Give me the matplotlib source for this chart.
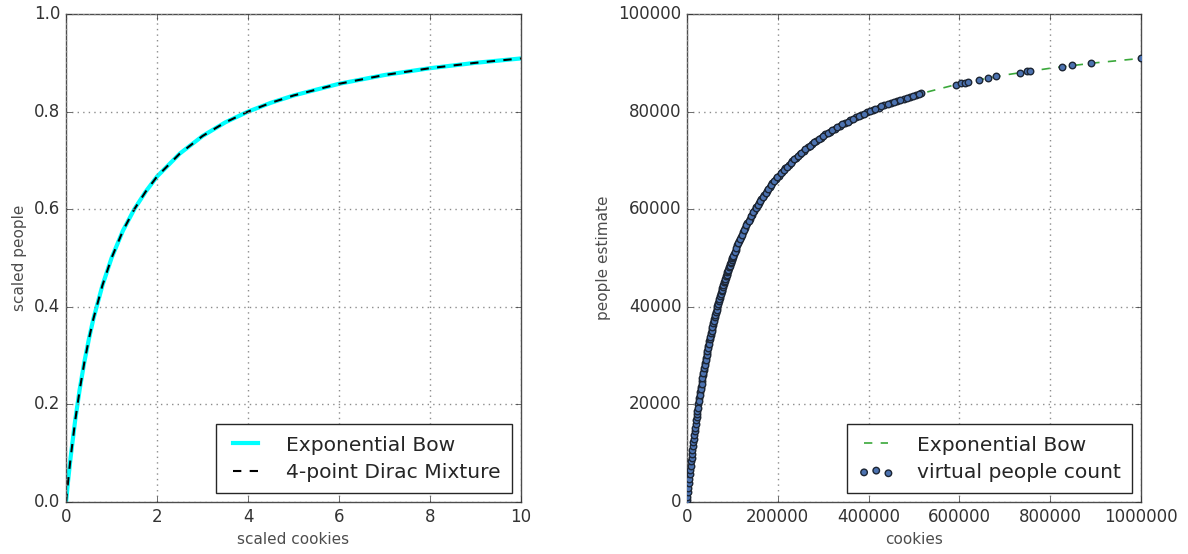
import matplotlib
matplotlib.use("Agg")
import matplotlib.pyplot as plt

# left panel: scaled curves
scaled_cookies = [0, 0.05, 0.1, 0.2, 0.3, 0.4, 0.5, 0.6, 0.8, 1.0, 1.25, 1.5, 1.75, 2.0,
                  2.5, 3.0, 3.5, 4.0, 4.5, 5.0, 6.0, 7.0, 8.0, 9.0, 10.0]
bow_scaled = [0, 0.048, 0.091, 0.167, 0.231, 0.286, 0.333, 0.375, 0.444, 0.5, 0.556, 0.6,
              0.636, 0.667, 0.714, 0.75, 0.778, 0.8, 0.818, 0.833, 0.857, 0.875, 0.889,
              0.9, 0.909]
dirac_scaled = [0, 0.047, 0.090, 0.166, 0.230, 0.285, 0.333, 0.375, 0.444, 0.5, 0.556, 0.6,
                0.636, 0.667, 0.714, 0.75, 0.778, 0.8, 0.818, 0.833, 0.857, 0.875, 0.889,
                0.9, 0.909]

# right panel: bow line
bow_cookies = [0, 5000, 10000, 25000, 50000, 75000, 100000, 150000, 200000, 300000,
               400000, 500000, 600000, 700000, 800000, 900000, 1000000]
bow_people = [0, 4762, 9091, 20000, 33333, 42857, 50000, 60000, 66667, 75000,
              80000, 83333, 85714, 87500, 88889, 90000, 90909]

# right panel: virtual people (thousands)
vp_cookies_k = [0.5, 1, 2, 3, 4, 5, 6, 7, 8, 9, 10, 11, 12, 13, 14, 15, 16, 17, 18, 19,
                20, 21, 22, 23, 25, 27, 29, 31, 33, 35, 37, 40, 42, 44, 47, 49, 52, 55,
                57, 60, 63, 66, 69, 72, 75, 78, 81, 85, 88, 92, 95, 99, 103, 107, 111,
                115, 119, 124, 128, 133, 138, 143, 148, 153, 158, 164, 170, 176, 182,
                188, 195, 202, 209, 216, 224, 232, 240, 248, 257, 266, 275, 285, 295,
                305, 315, 326, 337, 348, 360, 372, 384, 396, 409, 422, 435, 449, 463,
                477, 491, 505, 515, 592, 604, 612, 619, 643, 663, 681, 733, 749, 755,
                826, 848, 890, 1000,
                24, 26, 28, 30, 32, 34, 36, 38, 39, 41, 43, 45, 46, 48, 50, 51, 53, 54,
                56, 58, 59, 61, 62, 64, 65, 67, 68, 70, 71, 73, 74, 76, 77, 79, 80, 82,
                83, 84, 86, 87, 89, 90, 91, 93, 94, 96, 97, 98, 100, 101, 102, 105, 109,
                113, 117, 121, 126, 131, 136, 141, 146, 151, 156, 161, 167, 173, 179,
                185, 192, 199, 206, 213, 220, 228, 236, 244, 252, 261, 270, 280, 290,
                300, 310, 320, 331, 342, 354, 366, 378, 390, 402, 415, 428, 442, 456,
                470, 484, 498, 510]
vp_people_k = [0.5, 1.0, 1.96, 2.9, 3.85, 4.76, 5.7, 6.54, 7.41, 8.3, 9.09, 9.91, 10.7,
               11.5, 12.28, 13.0, 13.79, 14.5, 15.25, 15.97, 16.7, 17.36, 18.0, 18.7,
               20.0, 21.26, 22.48, 23.66, 24.81, 25.93, 27.01, 28.57, 29.58, 30.56,
               31.97, 32.89, 34.21, 35.48, 36.31, 37.5, 38.65, 39.76, 40.83, 41.86,
               42.86, 43.82, 44.75, 45.95, 46.81, 47.92, 48.72, 49.75, 50.74, 51.69,
               52.61, 53.49, 54.34, 55.36, 56.14, 57.08, 57.98, 58.85, 59.68, 60.47,
               61.24, 62.12, 62.96, 63.77, 64.54, 65.28, 66.1, 66.89, 67.64, 68.35,
               69.14, 69.88, 70.59, 71.26, 71.99, 72.68, 73.33, 74.03, 74.68, 75.31,
               75.9, 76.53, 77.12, 77.68, 78.26, 78.81, 79.34, 79.84, 80.35, 80.84,
               81.31, 81.79, 82.24, 82.67, 83.08, 83.47, 83.74, 85.55, 85.8, 85.96,
               86.09, 86.54, 86.89, 87.2, 88.0, 88.22, 88.3, 89.2, 89.45, 89.9, 90.91,
               19.35, 20.63, 21.88, 23.08, 24.24, 25.37, 26.47, 27.54, 28.06, 29.08,
               30.07, 31.03, 31.51, 32.43, 33.33, 33.77, 34.64, 35.06, 35.9, 36.71,
               37.11, 37.89, 38.27, 39.02, 39.39, 40.12, 40.48, 41.18, 41.52, 42.2,
               42.53, 43.18, 43.5, 44.13, 44.44, 45.05, 45.36, 45.65, 46.24, 46.52,
               47.09, 47.37, 47.64, 48.19, 48.45, 48.98, 49.24, 49.49, 50.0, 50.25,
               50.5, 51.22, 52.15, 53.05, 53.92, 54.75, 55.75, 56.71, 57.63, 58.51,
               59.35, 60.16, 60.94, 61.69, 62.55, 63.37, 64.16, 64.91, 65.75, 66.56,
               67.32, 68.05, 68.75, 69.51, 70.24, 70.93, 71.59, 72.3, 72.97, 73.68,
               74.36, 75.0, 75.61, 76.19, 76.8, 77.38, 77.97, 78.54, 79.08, 79.59,
               80.08, 80.58, 81.06, 81.55, 82.01, 82.46, 82.88, 83.28, 83.61]

vp_cookies = [c * 1000 for c in vp_cookies_k]
vp_people = [p * 1000 for p in vp_people_k]

plt.style.use("classic")
plt.rcParams["font.family"] = "DejaVu Sans"
plt.rcParams["figure.facecolor"] = "white"
plt.rcParams["savefig.facecolor"] = "white"
plt.rcParams["text.color"] = "0.15"
plt.rcParams["axes.labelcolor"] = "0.3"
plt.rcParams["xtick.color"] = "0.2"
plt.rcParams["ytick.color"] = "0.2"
plt.rcParams["axes.edgecolor"] = "0.3"
plt.rcParams["xtick.labelsize"] = 12
plt.rcParams["ytick.labelsize"] = 12

fig = plt.figure(figsize=(11.88, 5.54), dpi=100)
ax1 = fig.add_axes([0.0556, 0.0939, 0.383, 0.8808])
ax2 = fig.add_axes([0.5783, 0.0939, 0.3821, 0.8808])

leg_kw = dict(loc='lower right', fontsize=14.6, handlelength=1.8, handletextpad=1.1,
              borderpad=0.55, labelspacing=0.4, borderaxespad=0.45)

ax1.plot(scaled_cookies, bow_scaled, '-', color='cyan', lw=3, label="Exponential Bow")
ax1.plot(scaled_cookies, dirac_scaled, '--', color='black', lw=1.5, label="4-point Dirac Mixture")
ax1.set_xlim(0, 10)
ax1.set_ylim(0, 1.0)
ax1.set_xlabel("scaled cookies", fontsize=11)
ax1.set_ylabel("scaled people", fontsize=11)
ax1.grid(True, color='0.55', linestyle=':', lw=1)
leg1 = ax1.legend(numpoints=2, **leg_kw)
leg1.get_frame().set_edgecolor('0.15')

ax2.plot(bow_cookies, bow_people, '--', color='#3aa83a', lw=1.2, label="Exponential Bow")
ax2.scatter(vp_cookies, vp_people, s=22, facecolor='#4c72b0', edgecolor='#1c2533',
            lw=1, label="virtual people count", zorder=3)
ax2.set_xlim(0, 1000000)
ax2.set_ylim(0, 100000)
ax2.set_xticks([0, 200000, 400000, 600000, 800000, 1000000])
ax2.set_xlabel("cookies", fontsize=11)
ax2.set_ylabel("people estimate", fontsize=11)
ax2.grid(True, color='0.55', linestyle=':', lw=1)
leg2 = ax2.legend(scatterpoints=3, **leg_kw)
leg2.get_frame().set_edgecolor('0.15')

fig.savefig("out.png", dpi=100)
